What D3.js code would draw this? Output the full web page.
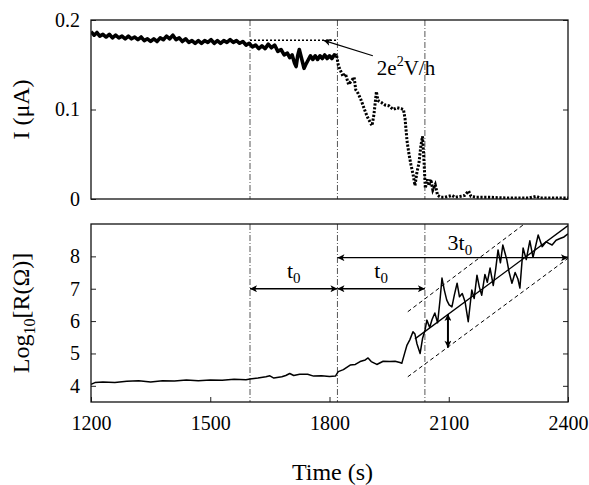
<!DOCTYPE html>
<html><head><meta charset="utf-8">
<script src="https://cdn.jsdelivr.net/npm/d3@7"></script>
<style>
body{margin:0;background:#fff}
svg text{font-family:"Liberation Serif","DejaVu Serif","Noto Serif",Tinos,"Times New Roman",Times,serif;fill:#000}
</style></head>
<body><svg id="c" width="589" height="485"></svg>
<script>
// ---- data ----
const xTicks = [1200, 1500, 1800, 2100, 2400];
const iTicks = [0, 0.1, 0.2];
const rTicks = [4, 5, 6, 7, 8];
const markerTimes = [1600, 1820, 2040];

// top panel: current (solid, before 1820)
const topTimesA = [1200,1208,1215,1222,1230,1238,1246,1254,1262,1270,1278,1286,1294,1302,1310,1318,1326,1334,1342,1350,1358,1366,1374,1382,1390,1398,1406,1414,1422,1430,1438,1446,1454,1462,1470,1478,1486,1494,1502,1510,1518,1526,1534,1542,1550,1558,1566,1574,1582,1590,1598,1606,1614,1622,1630,1638,1646,1654,1662,1670,1678,1686,1694,1700,1706,1712,1716,1720,1724,1728,1732,1736,1740,1746,1752,1758,1764,1770,1776,1782,1788,1794,1800,1806,1812,1818];
const topCurrentA = [.187,.183,.186,.182,.184,.181,.184,.180,.183,.180,.182,.179,.182,.179,.181,.178,.181,.177,.179,.176,.179,.176,.180,.178,.182,.179,.183,.178,.180,.176,.179,.175,.177,.174,.177,.174,.177,.175,.178,.174,.177,.174,.177,.175,.178,.175,.177,.174,.176,.172,.174,.170,.172,.168,.171,.168,.173,.169,.172,.165,.167,.161,.163,.158,.161,.152,.148,.160,.167,.160,.153,.146,.150,.155,.160,.156,.160,.156,.160,.157,.161,.157,.160,.157,.161,.160];
// top panel: current (dotted, after 1820)
const topTimesB = [1818,1822,1826,1834,1840,1848,1855,1862,1866,1872,1880,1888,1895,1902,1907,1912,1918,1922,1930,1940,1950,1960,1970,1980,1986,1990,1995,2000,2005,2010,2015,2020,2025,2030,2034,2038,2041,2046,2050,2055,2060,2066,2072,2080,2090,2100,2108,2116,2130,2140,2150,2156,2170,2200,2250,2300,2320,2330,2400];
const topCurrentB = [.160,.150,.145,.137,.140,.128,.132,.136,.122,.118,.110,.100,.092,.086,.082,.095,.120,.110,.108,.105,.104,.100,.102,.101,.100,.090,.065,.050,.038,.028,.015,.030,.040,.060,.070,.040,.012,.022,.015,.022,.010,.016,.004,.002,.002,.003,.004,.002,.003,.004,.009,.003,.002,.002,.001,.001,.003,.001,.001];

// bottom panel: log10 R
const botTimes = [1200,1210,1230,1260,1290,1320,1350,1380,1410,1440,1470,1500,1530,1560,1590,1600,1620,1640,1650,1660,1680,1690,1700,1710,1725,1745,1760,1780,1800,1815,1822,1835,1852,1865,1877,1890,1897,1905,1919,1935,1952,1965,1977,1982,1990,1995,2002,2010,2015,2020,2028,2034,2040,2045,2052,2058,2065,2072,2078,2083,2089,2095,2101,2108,2114,2121,2127,2134,2141,2149,2158,2164,2171,2177,2183,2191,2197,2204,2212,2218,2224,2230,2236,2246,2252,2259,2267,2274,2279,2287,2295,2304,2312,2325,2335,2345,2352,2360,2370,2380,2390,2400];
const botLogR = [4.05,4.10,4.12,4.10,4.14,4.16,4.12,4.16,4.15,4.18,4.16,4.18,4.17,4.20,4.19,4.21,4.24,4.28,4.31,4.24,4.28,4.32,4.38,4.32,4.36,4.36,4.30,4.31,4.29,4.30,4.44,4.50,4.64,4.66,4.75,4.80,4.86,4.75,4.66,4.76,4.75,4.76,4.72,4.70,5.05,5.26,5.42,5.67,5.60,5.30,5.00,5.46,5.70,6.03,5.80,6.05,6.25,5.95,6.65,7.33,6.95,6.65,6.50,6.44,6.80,7.17,6.75,6.85,6.60,5.98,6.96,6.70,7.42,7.05,6.80,7.44,7.20,7.64,7.10,7.60,8.20,7.80,8.35,7.90,7.50,7.17,7.50,7.30,7.02,8.26,7.90,8.48,7.97,8.66,8.30,8.45,8.40,8.35,8.50,8.55,8.60,8.70];

// annotations
const refLevel = [[1600, 0.1773], [1820, 0.1773]];      // 2e^2V/h dotted level
const refArrow = [[1909, 0.160], [1785, 0.1773]];       // label pointer (tail -> tip)
const refLabelPos = [1919, 0.1386];
const t0Arrows = [[[1600, 7], [1820, 7]], [[1820, 7], [2040, 7]]];
const t0LabelPos = [[1710, 7.33], [1930, 7.33]];
const threeT0Arrow = [[1820, 7.96], [2400, 7.96]];
const threeT0LabelPos = [2128, 8.2];
const fitLine = [[2015, 5.45], [2400, 8.95]];
const upperBand = [[1997, 6.29], [2287, 8.97]];
const lowerBand = [[1997, 4.28], [2400, 7.94]];
const spreadArrow = [[2098, 6.22], [2098, 5.18]];

// ---- layout ----
const FONT = '"Liberation Serif","DejaVu Serif","Noto Serif",Tinos,"Times New Roman",Times,serif';
const PL = 91, PR = 568, T1 = 20, B1 = 199, T2 = 224, B2 = 402;
const svg = d3.select('#c');
const x = d3.scaleLinear().domain([1200, 2400]).range([PL, PR]);
const yI = d3.scaleLinear().domain([0, 0.2]).range([B1, T1]);
const yR = d3.scaleLinear().domain([3.5, 9]).range([B2, T2]);

const defs = svg.append('defs');
defs.append('clipPath').attr('id', 'c1').append('rect').attr('x', PL).attr('y', T1).attr('width', PR - PL).attr('height', B1 - T1);
defs.append('clipPath').attr('id', 'c2').append('rect').attr('x', PL).attr('y', T2).attr('width', PR - PL).attr('height', B2 - T2);
defs.append('marker').attr('id', 'ah').attr('viewBox', '0 0 10 10').attr('refX', 10).attr('refY', 5)
  .attr('markerWidth', 10).attr('markerHeight', 7).attr('markerUnits', 'userSpaceOnUse')
  .attr('orient', 'auto-start-reverse')
  .append('path').attr('d', 'M0,0 L10,5 L0,10 L2.5,5 Z').attr('fill', '#000');

function styleAxis(g) {
  g.select('.domain').remove();
  g.selectAll('line').attr('stroke', '#222').attr('stroke-width', 1);
  g.selectAll('text').attr('font-size', 20).style('font-family', FONT).attr('fill', '#000');
  g.attr('font-family', null);
}

// ---- top panel ----
const topG = svg.append('g');
topG.append('g').attr('transform', `translate(${PL},0)`)
  .call(d3.axisLeft(yI).tickValues(iTicks).tickFormat(d => d === 0 ? '0' : d3.format('.1f')(d)).tickSizeInner(-5).tickSizeOuter(0).tickPadding(11))
  .call(styleAxis);
topG.append('g').attr('transform', `translate(${PR},0)`)
  .call(d3.axisRight(yI).tickValues(iTicks).tickFormat('').tickSizeInner(-5).tickSizeOuter(0))
  .call(styleAxis);

const pc1 = topG.append('g').attr('clip-path', 'url(#c1)');
markerTimes.forEach(t => {
  pc1.append('line').attr('x1', x(t)).attr('x2', x(t)).attr('y1', T1).attr('y2', B1)
    .attr('stroke', '#444').attr('stroke-width', 0.9).attr('stroke-dasharray', '6,2,1,2');
});
const lineI = d3.line().x(d => x(d[0])).y(d => yI(d[1]));
pc1.append('path').datum(topTimesA.map((t, i) => [t, topCurrentA[i]])).attr('d', lineI)
  .attr('fill', 'none').attr('stroke', '#000').attr('stroke-width', 3.6).attr('stroke-linejoin', 'round');
pc1.append('path').datum(topTimesB.map((t, i) => [t, topCurrentB[i]])).attr('d', lineI)
  .attr('fill', 'none').attr('stroke', '#000').attr('stroke-width', 3).attr('stroke-dasharray', '2.2,1.6');
pc1.append('path').datum(refLevel).attr('d', lineI)
  .attr('fill', 'none').attr('stroke', '#000').attr('stroke-width', 1.6).attr('stroke-dasharray', '2,2');
topG.append('line').attr('x1', x(refArrow[0][0])).attr('y1', yI(refArrow[0][1]))
  .attr('x2', x(refArrow[1][0])).attr('y2', yI(refArrow[1][1]))
  .attr('stroke', '#000').attr('stroke-width', 1.2).attr('marker-end', 'url(#ah)');
const refTxt = topG.append('text').attr('x', x(refLabelPos[0])).attr('y', yI(refLabelPos[1])).attr('font-size', 21);
refTxt.append('tspan').text('2e');
refTxt.append('tspan').attr('dy', -9).attr('font-size', 14).text('2');
refTxt.append('tspan').attr('dy', 9).text('V/h');

topG.append('rect').attr('x', PL).attr('y', T1).attr('width', PR - PL).attr('height', B1 - T1)
  .attr('fill', 'none').attr('stroke', '#111').attr('stroke-width', 1.3);

topG.append('text').attr('transform', `translate(29,${(T1 + B1) / 2}) rotate(-90)`)
  .attr('text-anchor', 'middle').attr('font-size', 24).text('I (μA)');

// ---- bottom panel ----
const botG = svg.append('g');
botG.append('g').attr('transform', `translate(${PL},0)`)
  .call(d3.axisLeft(yR).tickValues(rTicks).tickFormat(d3.format('d')).tickSizeInner(-5).tickSizeOuter(0).tickPadding(11))
  .call(styleAxis);
botG.append('g').attr('transform', `translate(${PR},0)`)
  .call(d3.axisRight(yR).tickValues(rTicks).tickFormat('').tickSizeInner(-5).tickSizeOuter(0))
  .call(styleAxis);
botG.append('g').attr('transform', `translate(0,${B2})`)
  .call(d3.axisBottom(x).tickValues(xTicks).tickFormat(d3.format('d')).tickSizeInner(-5).tickSizeOuter(0).tickPadding(13.5))
  .call(styleAxis);

const pc2 = botG.append('g').attr('clip-path', 'url(#c2)');
markerTimes.forEach(t => {
  pc2.append('line').attr('x1', x(t)).attr('x2', x(t)).attr('y1', T2).attr('y2', B2)
    .attr('stroke', '#444').attr('stroke-width', 0.9).attr('stroke-dasharray', '6,2,1,2');
});
const lineR = d3.line().x(d => x(d[0])).y(d => yR(d[1]));
pc2.append('path').datum(botTimes.map((t, i) => [t, botLogR[i]])).attr('d', lineR)
  .attr('fill', 'none').attr('stroke', '#000').attr('stroke-width', 1.5).attr('stroke-linejoin', 'round');
pc2.append('path').datum(fitLine).attr('d', lineR).attr('fill', 'none').attr('stroke', '#000').attr('stroke-width', 1.3);
[upperBand, lowerBand].forEach(b => pc2.append('path').datum(b).attr('d', lineR)
  .attr('fill', 'none').attr('stroke', '#000').attr('stroke-width', 1).attr('stroke-dasharray', '4,3'));

function dblArrow(seg, w) {
  botG.append('line').attr('x1', x(seg[0][0])).attr('y1', yR(seg[0][1]))
    .attr('x2', x(seg[1][0])).attr('y2', yR(seg[1][1]))
    .attr('stroke', '#000').attr('stroke-width', w)
    .attr('marker-start', 'url(#ah)').attr('marker-end', 'url(#ah)');
}
t0Arrows.forEach(s => dblArrow(s, 1.4));
dblArrow(threeT0Arrow, 1.4);
dblArrow(spreadArrow, 2);

function subLabel(pos, main) {
  const t = botG.append('text').attr('x', x(pos[0])).attr('y', yR(pos[1])).attr('text-anchor', 'middle').attr('font-size', 22);
  t.append('tspan').text(main);
  t.append('tspan').attr('dy', 5).attr('font-size', 15).text('0');
}
t0LabelPos.forEach(p => subLabel(p, 't'));
subLabel(threeT0LabelPos, '3t');

botG.append('rect').attr('x', PL).attr('y', T2).attr('width', PR - PL).attr('height', B2 - T2)
  .attr('fill', 'none').attr('stroke', '#111').attr('stroke-width', 1.3);

const yt = botG.append('text').attr('transform', `translate(29,${(T2 + B2) / 2}) rotate(-90)`)
  .attr('text-anchor', 'middle').attr('font-size', 24);
yt.append('tspan').text('Log');
yt.append('tspan').attr('dy', 6).attr('font-size', 16).text('10');
yt.append('tspan').attr('dy', -6).text('[R(Ω)]');

svg.append('text').attr('x', (PL + PR) / 2 + 3).attr('y', 480).attr('text-anchor', 'middle')
  .attr('font-size', 24).text('Time (s)');

svg.selectAll('text').style('font-family', FONT);
</script></body></html>
